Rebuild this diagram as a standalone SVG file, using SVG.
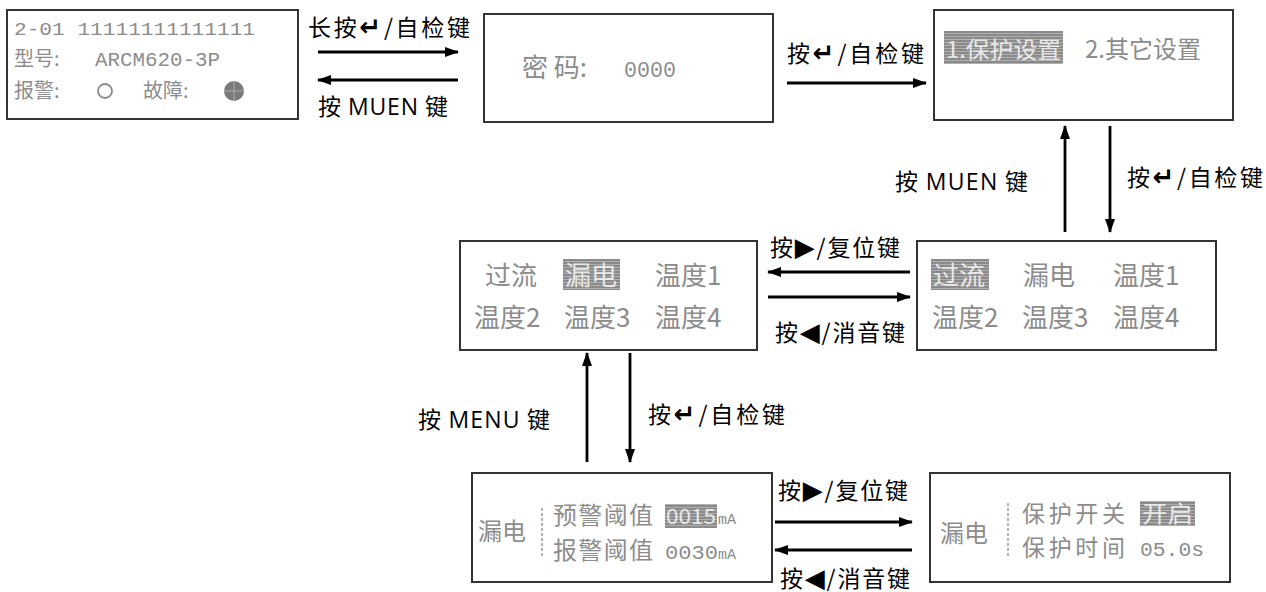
<svg xmlns="http://www.w3.org/2000/svg" width="1266" height="592" viewBox="0 0 1266 592">
<defs>
<marker id="ah" markerUnits="userSpaceOnUse" markerWidth="14" markerHeight="11" refX="13" refY="5" orient="auto">
<path d="M0,0 L14,5 L0,10 z" fill="#000"/>
</marker>
<pattern id="stripes" width="4" height="3" patternUnits="userSpaceOnUse">
<rect width="4" height="3" fill="#8a8a8a"/>
<rect width="4" height="1" fill="#b0b0b0"/>
</pattern>
<style>
.box{fill:#fff;stroke:#333;stroke-width:2}
.lcd{font-family:"Noto Sans CJK SC","Liberation Sans",sans-serif;fill:#8c8c8c}
.mono{font-family:"Liberation Mono","Noto Sans CJK SC",monospace;fill:#8c8c8c}
.inv{font-family:"Noto Sans CJK SC","Liberation Sans",sans-serif;fill:#e8e8e8}
.hl{fill:url(#stripes)}
.lbl{font-family:"Noto Sans CJK SC","Liberation Sans",sans-serif;font-size:23px;fill:#000}
.lat{font-family:"Open Sans","Liberation Sans",sans-serif}
.sym{font-family:"DejaVu Sans",sans-serif;font-weight:bold;font-size:26px}
.con{stroke:#000;stroke-width:2.8;fill:none;marker-end:url(#ah)}
.dash{stroke:#999;stroke-width:1.5;stroke-dasharray:3 2}
</style>
</defs>

<g id="node-status">
<rect class="box" x="7" y="10" width="291" height="109"/>
<text class="mono" x="14" y="35" font-size="19" textLength="241" lengthAdjust="spacingAndGlyphs">2-01 11111111111111</text>
<text class="lcd" x="14" y="66" font-size="20">型号: <tspan class="mono" x="95" font-size="20" textLength="125" lengthAdjust="spacingAndGlyphs">ARCM620-3P</tspan></text>
<text class="lcd" x="14" y="98" font-size="20">报警:</text>
<circle cx="105" cy="91" r="7" fill="none" stroke="#8c8c8c" stroke-width="1.8"/>
<text class="lcd" x="143" y="98" font-size="20">故障:</text>
<circle cx="234" cy="91" r="10" fill="#7a7a7a"/>
<path d="M224,91 H244 M234,81 V101" stroke="#aaa" stroke-width="1"/>
</g>

<g id="node-password">
<rect class="box" x="484" y="14" width="289" height="108"/>
<text class="lcd" x="522" y="77" font-size="26">密 码: <tspan class="mono" x="624" font-size="22" textLength="52" lengthAdjust="spacingAndGlyphs">0000</tspan></text>
</g>

<g id="node-menu">
<rect class="box" x="934" y="10" width="299" height="110"/>
<rect class="hl" x="944" y="31" width="119" height="33"/>
<text class="inv" x="946" y="58" font-size="23" textLength="115" lengthAdjust="spacingAndGlyphs">1.保护设置</text>
<text class="lcd" x="1085" y="58" font-size="24">2.其它设置</text>
</g>

<g id="node-protect-a">
<rect class="box" x="460" y="241" width="297" height="109"/>
<text class="lcd" x="485" y="285" font-size="26">过流</text>
<rect class="hl" x="563" y="259" width="57" height="31"/>
<text class="inv" x="565" y="285" font-size="26">漏电</text>
<text class="lcd" x="655" y="285" font-size="26">温度1</text>
<text class="lcd" x="474" y="327" font-size="26">温度2</text>
<text class="lcd" x="564" y="327" font-size="26">温度3</text>
<text class="lcd" x="655" y="327" font-size="26">温度4</text>
</g>

<g id="node-protect-b">
<rect class="box" x="917" y="241" width="299" height="109"/>
<rect class="hl" x="931" y="259" width="58" height="31"/>
<text class="inv" x="933" y="285" font-size="26">过流</text>
<text class="lcd" x="1023" y="285" font-size="26">漏电</text>
<text class="lcd" x="1113" y="285" font-size="26">温度1</text>
<text class="lcd" x="932" y="327" font-size="26">温度2</text>
<text class="lcd" x="1022" y="327" font-size="26">温度3</text>
<text class="lcd" x="1113" y="327" font-size="26">温度4</text>
</g>

<g id="node-leak-threshold">
<rect class="box" x="472" y="473" width="300" height="109"/>
<text class="lcd" x="478" y="540" font-size="24">漏电</text>
<line class="dash" x1="542" y1="508" x2="542" y2="557"/>
<text class="lcd" x="553" y="524" font-size="24" textLength="100">预警阈值</text>
<rect class="hl" x="665" y="504" width="52" height="24"/>
<text class="inv" x="666" y="524" font-size="21" textLength="50" lengthAdjust="spacingAndGlyphs">0015</text>
<text class="mono" x="718" y="524" font-size="15">mA</text>
<text class="lcd" x="553" y="559" font-size="24" textLength="100">报警阈值</text>
<text class="mono" x="665" y="559" font-size="21" textLength="53" lengthAdjust="spacingAndGlyphs">0030</text>
<text class="mono" x="718" y="559" font-size="15">mA</text>
</g>

<g id="node-leak-protect">
<rect class="box" x="930" y="473" width="300" height="109"/>
<text class="lcd" x="940" y="542" font-size="24">漏电</text>
<line class="dash" x1="1008" y1="503" x2="1008" y2="558"/>
<text class="lcd" x="1022" y="522" font-size="23" textLength="103">保护开关</text>
<rect class="hl" x="1140" y="501" width="55" height="25"/>
<text class="inv" x="1142" y="522" font-size="23" textLength="51" lengthAdjust="spacingAndGlyphs">开启</text>
<text class="lcd" x="1022" y="556" font-size="23" textLength="103">保护时间</text>
<text class="mono" x="1140" y="556" font-size="21" textLength="64" lengthAdjust="spacingAndGlyphs">05.0s</text>
</g>

<g id="connectors">
<line class="con" x1="318" y1="52" x2="458" y2="52"/>
<line class="con" x1="458" y1="80" x2="318" y2="80"/>
<line class="con" x1="787" y1="83" x2="926" y2="83"/>
<line class="con" x1="1065" y1="232" x2="1065" y2="126"/>
<line class="con" x1="1110" y1="126" x2="1110" y2="232"/>
<line class="con" x1="910" y1="272" x2="768" y2="272"/>
<line class="con" x1="768" y1="297" x2="910" y2="297"/>
<line class="con" x1="587" y1="462" x2="587" y2="353"/>
<line class="con" x1="630" y1="353" x2="630" y2="462"/>
<line class="con" x1="775" y1="522" x2="912" y2="522"/>
<line class="con" x1="912" y1="550" x2="775" y2="550"/>
</g>

<g id="labels">
<text class="lbl" x="308" y="36" textLength="162">长按<tspan class="sym">↵</tspan>/自检键</text>
<text class="lbl" x="318" y="115" textLength="130">按 <tspan class="lat">MUEN</tspan> 键</text>
<text class="lbl" x="787" y="62" textLength="137">按<tspan class="sym">↵</tspan>/自检键</text>
<text class="lbl" x="895" y="190" textLength="133">按 <tspan class="lat">MUEN</tspan> 键</text>
<text class="lbl" x="1127" y="186" textLength="136">按<tspan class="sym">↵</tspan>/自检键</text>
<text class="lbl" x="770" y="256" textLength="130">按<tspan class="sym">▶</tspan>/复位键</text>
<text class="lbl" x="775" y="341" textLength="130">按<tspan class="sym">◀</tspan>/消音键</text>
<text class="lbl" x="418" y="428" textLength="132">按 <tspan class="lat">MENU</tspan> 键</text>
<text class="lbl" x="648" y="423" textLength="137">按<tspan class="sym">↵</tspan>/自检键</text>
<text class="lbl" x="778" y="499" textLength="130">按<tspan class="sym">▶</tspan>/复位键</text>
<text class="lbl" x="780" y="587" textLength="130">按<tspan class="sym">◀</tspan>/消音键</text>
</g>
</svg>
